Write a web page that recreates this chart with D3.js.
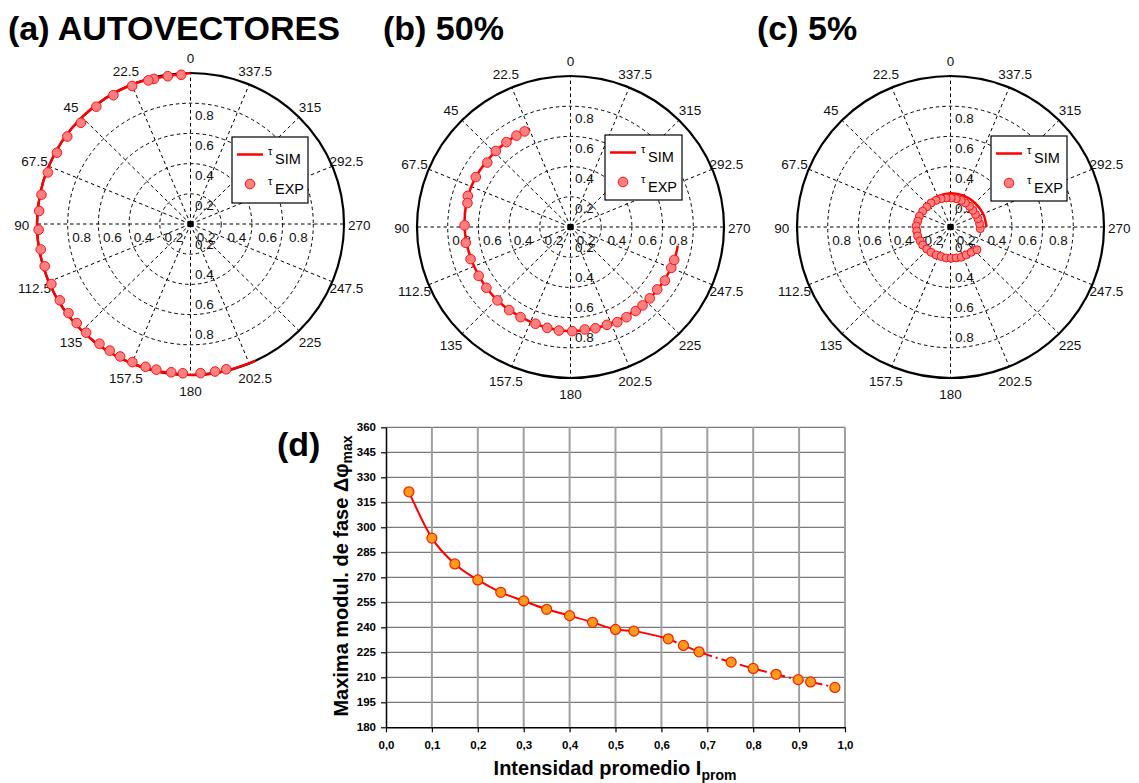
<!DOCTYPE html>
<html><head><meta charset="utf-8">
<script src="https://cdn.jsdelivr.net/npm/d3@7"></script>
<style>body{margin:0;background:#fff;} svg{display:block;font-family:"Liberation Sans",Arial,sans-serif;}</style>
</head><body><svg id="c" width="1139" height="783"></svg>
<script>
// ---------------- DATA ----------------
const panelTitles = ["(a) AUTOVECTORES", "(b) 50%", "(c) 5%"];
const panelDTitle = "(d)";
const angleTicks = [0, 22.5, 45, 67.5, 90, 112.5, 135, 157.5, 180, 202.5, 225, 247.5, 270, 292.5, 315, 337.5];
const angleTickLabels = ["0", "22.5", "45", "67.5", "90", "112.5", "135", "157.5", "180", "202.5", "225", "247.5", "270", "292.5", "315", "337.5"];
const radialTicks = [0.2, 0.4, 0.6, 0.8];
const radialTickLabels = ["0.2", "0.4", "0.6", "0.8"];
const legendLabels = ["SIM", "EXP"];

// (a) AUTOVECTORES  (angle in degrees, counter-clockwise from top; radius)
const aExpAngle = [3.5, 8.6, 13.9, 16.1, 22.6, 30.5, 38.3, 46.8, 54.2, 61.5, 69.8, 78.7, 85, 92.2, 99.8, 106.4, 113.7, 120.7, 126.6, 131.5, 136.6, 143.2, 147.9, 152.4, 157.5, 162.8, 167, 172.7, 177.1, 183.8, 189.3, 193.6];
const aExpR     = [0.99, 0.99, 0.99, 0.99, 0.99, 0.99, 0.99, 0.98, 0.99, 0.99, 0.99, 0.99, 0.99, 0.99, 0.99, 0.99, 0.99, 0.99, 0.99, 0.99, 0.99, 0.99, 0.99, 0.99, 0.99, 0.99, 0.99, 0.99, 0.99, 0.99, 0.99, 0.99];
const aSimAngle = [0, 22.5, 45, 67.5, 90, 112.5, 135, 157.5, 180, 192, 205];
const aSimR     = [1.0, 1.0, 1.0, 1.0, 1.0, 1.0, 1.0, 1.0, 1.0, 1.0, 1.0];

// (b) 50%
const bExpAngle = [25.3, 30.2, 36.6, 44, 51.8, 61.8, 72.9, 76.7, 89.1, 98.7, 108.1, 118.4, 126.3, 135.6, 144, 151.4, 160.4, 167.2, 173.7, 180.9, 187.8, 193.6, 200.1, 205.8, 211.4, 217.4, 222.1, 227.5, 233.8, 240, 247.6, 252.1];
const bExpR     = [0.70, 0.70, 0.70, 0.70, 0.69, 0.70, 0.70, 0.69, 0.69, 0.69, 0.685, 0.68, 0.68, 0.68, 0.68, 0.68, 0.68, 0.685, 0.69, 0.69, 0.685, 0.69, 0.69, 0.70, 0.70, 0.70, 0.70, 0.70, 0.70, 0.71, 0.71, 0.71];
const bSimAngle = [22.5, 45, 67.5, 90, 112.5, 135, 157.5, 180, 202.5, 225, 247.5, 260];
const bSimR     = [0.71, 0.70, 0.70, 0.69, 0.68, 0.68, 0.68, 0.69, 0.69, 0.70, 0.71, 0.71];

// (c) 5%  (unwrapped phase)
const cExpAngle = [266.8, 276.6, 287, 296.9, 307.3, 317.9, 328.4, 338.4, 348.8, 358.7, 368.4, 378, 388, 398.5, 409.3, 420, 430.5, 439.6, 448.3, 456.8, 465.4, 474.8, 483.5, 493.3, 503, 513.2, 522.7, 532.1, 541.2, 550.3, 559.2, 568.9, 578.8, 588.9];
const cExpR     = [0.194, 0.191, 0.187, 0.183, 0.183, 0.185, 0.187, 0.19, 0.191, 0.192, 0.194, 0.197, 0.2, 0.203, 0.204, 0.209, 0.215, 0.217, 0.224, 0.222, 0.222, 0.218, 0.217, 0.213, 0.21, 0.208, 0.205, 0.207, 0.207, 0.208, 0.212, 0.212, 0.215, 0.229];
const cSimAngle = [270, 292.5, 315, 337.5, 360, 382.5, 405, 427.5, 450, 472.5, 495, 517.5, 540, 562.5, 585, 594];
const cSimR     = [0.235, 0.23, 0.225, 0.225, 0.224, 0.22, 0.215, 0.215, 0.222, 0.222, 0.218, 0.212, 0.208, 0.21, 0.218, 0.235];

// (d) Maxima modulacion de fase vs intensidad promedio
const dX = [0.05, 0.1, 0.15, 0.2, 0.25, 0.3, 0.35, 0.4, 0.45, 0.5, 0.54, 0.615, 0.648, 0.682, 0.752, 0.8, 0.85, 0.898, 0.925, 0.978];
const dY = [321.3, 293.5, 278, 268.4, 261, 255.8, 250.8, 247, 243, 238.7, 237.7, 233.1, 229.1, 225.3, 219.1, 215.3, 211.8, 208.6, 207.2, 203.9];
const dXTicks = [0, 0.1, 0.2, 0.3, 0.4, 0.5, 0.6, 0.7, 0.8, 0.9, 1.0];
const dXTickLabels = ["0,0", "0,1", "0,2", "0,3", "0,4", "0,5", "0,6", "0,7", "0,8", "0,9", "1,0"];
const dYTicks = [180, 195, 210, 225, 240, 255, 270, 285, 300, 315, 330, 345, 360];
const dXTitle = "Intensidad promedio I";
const dXTitleSub = "prom";
const dYTitle = "Maxima modul. de fase Δφ";
const dYTitleSub = "max";

// ---------------- DRAW ----------------
const svg = d3.select("#c");
svg.append("rect").attr("width", 1139).attr("height", 783).attr("fill", "#fff");

// titles
const titleX = [8, 383, 757];
panelTitles.forEach((t, i) => {
  svg.append("text").attr("x", titleX[i]).attr("y", 40)
    .attr("font-size", 34).attr("font-weight", "bold").attr("fill", "#000").text(t);
});

const panels = [
  { cx: 190.5, cy: 224, rx: 153.5, ry: 151, legend: { x: 232, y: 137, w: 76, h: 66 },
    expA: aExpAngle, expR: aExpR, simA: aSimAngle, simR: aSimR, mr: 4.8 },
  { cx: 570.5, cy: 227, rx: 153.5, ry: 151, legend: { x: 605, y: 135, w: 77, h: 65 },
    expA: bExpAngle, expR: bExpR, simA: bSimAngle, simR: bSimR, mr: 4.8 },
  { cx: 950.5, cy: 227, rx: 153.5, ry: 151, legend: { x: 991, y: 136, w: 76, h: 65 },
    expA: cExpAngle, expR: cExpR, simA: cSimAngle, simR: cSimR, mr: 4 }
];

const toRad = d3.scaleLinear().domain([0, 360]).range([0, 2 * Math.PI]);

function drawPolar(p) {
  const g = svg.append("g");
  const rX = d3.scaleLinear().domain([0, 1]).range([0, p.rx]);
  const rY = d3.scaleLinear().domain([0, 1]).range([0, p.ry]);
  const px = (a, r) => p.cx - rX(r) * Math.sin(toRad(a));
  const py = (a, r) => p.cy - rY(r) * Math.cos(toRad(a));

  // spokes
  g.selectAll("line.spoke").data(angleTicks).join("line")
    .attr("x1", p.cx).attr("y1", p.cy)
    .attr("x2", d => px(d, 1)).attr("y2", d => py(d, 1))
    .attr("stroke", "#000").attr("stroke-width", 1).attr("stroke-dasharray", "3.5,3");
  // rings
  g.selectAll("ellipse.ring").data(radialTicks).join("ellipse")
    .attr("cx", p.cx).attr("cy", p.cy).attr("rx", d => rX(d)).attr("ry", d => rY(d))
    .attr("fill", "none").attr("stroke", "#000").attr("stroke-width", 1).attr("stroke-dasharray", "3.5,3");
  // outer circle
  g.append("ellipse").attr("cx", p.cx).attr("cy", p.cy).attr("rx", rX(1)).attr("ry", rY(1))
    .attr("fill", "none").attr("stroke", "#000").attr("stroke-width", 2.2);

  // radial labels (4 directions)
  const rl = [];
  radialTicks.forEach((v, i) => {
    const t = radialTickLabels[i];
    rl.push({ t, x: p.cx + 14, y: p.cy - rY(v) + 12 });
    rl.push({ t, x: p.cx + 14, y: p.cy + rY(v) - 10 });
    rl.push({ t, x: p.cx - rX(v) + 14, y: p.cy + 13 });
    rl.push({ t, x: p.cx + rX(v) - 15, y: p.cy + 13 });
  });
  g.selectAll("text.rl").data(rl).join("text")
    .attr("x", d => d.x).attr("y", d => d.y)
    .attr("text-anchor", "middle").attr("dominant-baseline", "central")
    .attr("font-size", 13.5).attr("fill", "#111").text(d => d.t);

  // angle labels
  g.selectAll("text.al").data(angleTicks).join("text")
    .attr("x", d => p.cx - rX(1.1) * Math.sin(toRad(d)))
    .attr("y", d => p.cy - rY(1.1) * Math.cos(toRad(d)) + 1)
    .attr("text-anchor", "middle").attr("dominant-baseline", "central")
    .attr("font-size", 13.5).attr("fill", "#111").text((d, i) => angleTickLabels[i]);

  // center square
  g.append("rect").attr("x", p.cx - 3).attr("y", p.cy - 3).attr("width", 6).attr("height", 6).attr("fill", "#000");

  // simulation line
  const line = d3.line().x(d => px(d[0], d[1])).y(d => py(d[0], d[1])).curve(d3.curveCatmullRom);
  g.append("path").datum(d3.zip(p.simA, p.simR)).attr("d", line)
    .attr("fill", "none").attr("stroke", "#ff0000").attr("stroke-width", 2.5);

  // experimental markers
  g.selectAll("circle.exp").data(d3.zip(p.expA, p.expR)).join("circle")
    .attr("cx", d => px(d[0], d[1])).attr("cy", d => py(d[0], d[1])).attr("r", p.mr)
    .attr("fill", "#ff8080").attr("stroke", "#ff1010").attr("stroke-width", 1);

  // legend
  const L = p.legend;
  const lg = g.append("g");
  lg.append("rect").attr("x", L.x).attr("y", L.y).attr("width", L.w).attr("height", L.h)
    .attr("fill", "#fff").attr("stroke", "#000").attr("stroke-width", 1.2);
  lg.append("line").attr("x1", L.x + 5).attr("x2", L.x + 31).attr("y1", L.y + 17.5).attr("y2", L.y + 17.5)
    .attr("stroke", "#ff0000").attr("stroke-width", 2.5);
  lg.append("circle").attr("cx", L.x + 18).attr("cy", L.y + 47).attr("r", 4.8)
    .attr("fill", "#ff8080").attr("stroke", "#ff1010").attr("stroke-width", 1);
  [0, 1].forEach(k => {
    const by = L.y + 18 + k * 30;
    lg.append("text").attr("x", L.x + 36).attr("y", by).attr("font-size", 11).attr("fill", "#000").text("τ");
    lg.append("text").attr("x", L.x + 43).attr("y", by + 9).attr("font-size", 14.5).attr("fill", "#000").text(legendLabels[k]);
  });
}
panels.forEach(drawPolar);

// ---------------- (d) ----------------
const x = d3.scaleLinear().domain([0, 1]).range([386, 845]);
const y = d3.scaleLinear().domain([180, 360]).range([727.3, 427.3]);
const gd = svg.append("g");

gd.append("text").attr("x", 277).attr("y", 456).attr("font-size", 34).attr("font-weight", "bold").text(panelDTitle);

// grid
gd.selectAll("line.hg").data(dYTicks.slice(1)).join("line")
  .attr("x1", x(0)).attr("x2", x(1)).attr("y1", d => y(d)).attr("y2", d => y(d))
  .attr("stroke", "#7a7a7a").attr("stroke-width", 1.2);
gd.selectAll("line.vg").data(dXTicks.slice(1)).join("line")
  .attr("x1", d => x(d)).attr("x2", d => x(d)).attr("y1", y(180)).attr("y2", y(360))
  .attr("stroke", "#a0a0a0").attr("stroke-width", 2);

// axes
const ax = gd.append("g").attr("transform", `translate(0,${y(180)})`)
  .call(d3.axisBottom(x).tickValues(dXTicks).tickFormat((d, i) => dXTickLabels[i]).tickSize(5).tickSizeOuter(0).tickPadding(9));
const ay = gd.append("g").attr("transform", `translate(${x(0)},0)`)
  .call(d3.axisLeft(y).tickValues(dYTicks).tickFormat(d => d).tickSize(5).tickSizeOuter(0).tickPadding(5));
[ax, ay].forEach(a => {
  a.select(".domain").attr("stroke", "#000").attr("stroke-width", 1.5);
  a.selectAll(".tick line").attr("stroke", "#000").attr("stroke-width", 1.2);
  a.selectAll(".tick text").attr("font-family", "Liberation Sans, Arial, sans-serif")
    .attr("font-size", 11.5).attr("font-weight", "bold").attr("fill", "#000");
});

// curve
const pts = d3.zip(dX, dY);
const dline = d3.line().x(d => x(d[0])).y(d => y(d[1])).curve(d3.curveMonotoneX);
gd.append("path").datum(pts.slice(0, 12)).attr("d", dline)
  .attr("fill", "none").attr("stroke", "#ff0000").attr("stroke-width", 2);
gd.append("path").datum(pts.slice(11)).attr("d", dline)
  .attr("fill", "none").attr("stroke", "#ff0000").attr("stroke-width", 2).attr("stroke-dasharray", "9,4,2,4");
gd.selectAll("circle.dp").data(pts).join("circle")
  .attr("cx", d => x(d[0])).attr("cy", d => y(d[1])).attr("r", 5)
  .attr("fill", "#ff9a1a").attr("stroke", "#ee2200").attr("stroke-width", 1.2);

// axis titles
const xt = gd.append("text").attr("x", 615).attr("y", 775).attr("text-anchor", "middle")
  .attr("font-size", 20).attr("font-weight", "bold").attr("fill", "#000");
xt.append("tspan").text(dXTitle);
xt.append("tspan").attr("font-size", 14).attr("dy", 5).text(dXTitleSub);

const yt = gd.append("text").attr("transform", "translate(348,576) rotate(-90)").attr("text-anchor", "middle")
  .attr("font-size", 20).attr("font-weight", "bold").attr("fill", "#000");
yt.append("tspan").text(dYTitle);
yt.append("tspan").attr("font-size", 14).attr("dy", 4).text(dYTitleSub);
</script>
</body></html>
